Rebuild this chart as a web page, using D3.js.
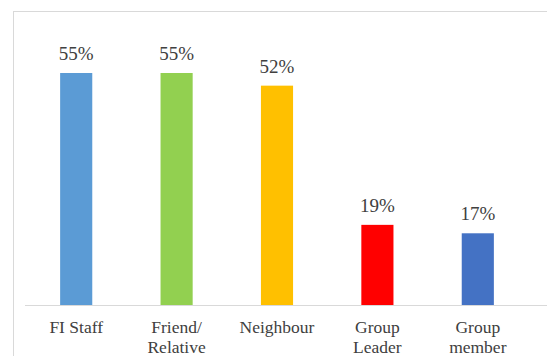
<!DOCTYPE html>
<html><head><meta charset="utf-8">
<script src="https://cdn.jsdelivr.net/npm/d3@7"></script>
<style>html,body{margin:0;padding:0;background:#fff;}svg{display:block;}</style>
</head><body>
<svg id="c" width="547" height="356" style="font-family:'Liberation Serif'"></svg>
<script>
const categories = [["FI Staff"], ["Friend/", "Relative"], ["Neighbour"], ["Group", "Leader"], ["Group", "member"]];
const categoryKeys = ["FI Staff", "Friend/Relative", "Neighbour", "Group Leader", "Group member"];
const values = [55, 55, 52, 19, 17];
const colors = ["#5b9bd5", "#92d050", "#ffc000", "#ff0000", "#4472c4"];

const svg = d3.select("#c");
svg.append("rect").attr("x", 13.5).attr("y", 11.5).attr("width", 560).attr("height", 360)
  .attr("fill", "none").attr("stroke", "#d9d9d9").attr("stroke-width", 1);

const x = d3.scaleBand().domain(categoryKeys).range([26, 528]).paddingInner(0.68).paddingOuter(0.34);
const y = d3.scaleLinear().domain([0, 55]).range([305, 73]);

svg.selectAll("rect.bar").data(values).enter().append("rect")
  .attr("class", "bar")
  .attr("x", (d, i) => x(categoryKeys[i]))
  .attr("width", x.bandwidth())
  .attr("y", d => y(d))
  .attr("height", d => y(0) - y(d))
  .attr("fill", (d, i) => colors[i]);

svg.append("line").attr("x1", 25).attr("x2", 547).attr("y1", y(0) + 0.5).attr("y2", y(0) + 0.5)
  .attr("stroke", "#d9d9d9");

svg.selectAll("text.val").data(values).enter().append("text")
  .attr("class", "val")
  .attr("x", (d, i) => x(categoryKeys[i]) + x.bandwidth() / 2)
  .attr("y", d => y(d) - 13)
  .attr("text-anchor", "middle")
  .style("font-family", "'Liberation Serif'")
  .style("font-size", "19px")
  .attr("fill", "#404040")
  .text(d => d + "%");

const lab = svg.selectAll("text.cat").data(categories).enter().append("text")
  .attr("class", "cat")
  .attr("x", (d, i) => x(categoryKeys[i]) + x.bandwidth() / 2)
  .attr("y", 333)
  .attr("text-anchor", "middle")
  .style("font-family", "'Liberation Serif'")
  .style("font-size", "17.5px")
  .attr("fill", "#404040");
lab.each(function(d) {
  const t = d3.select(this);
  d.forEach((line, j) => {
    t.append("tspan").attr("x", t.attr("x")).attr("dy", j === 0 ? 0 : 20).text(line);
  });
});
</script>
</body></html>
